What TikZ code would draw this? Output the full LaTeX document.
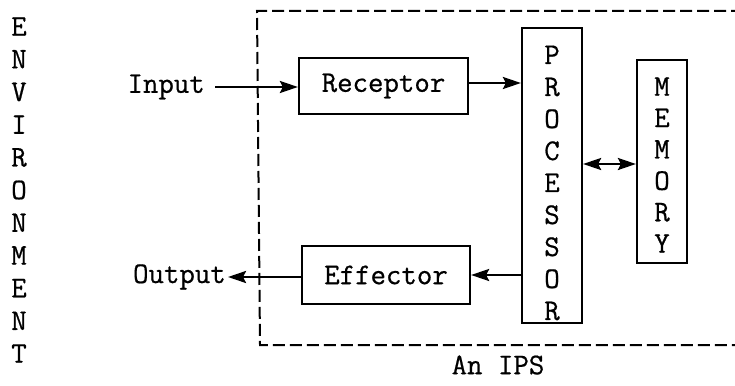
\documentclass[tikz,border=0pt]{standalone}
\usepackage{fontspec}
\setmonofont{Latin Modern Mono}[FakeBold=0.6]
\usetikzlibrary{arrows.meta}
\tikzset{
  txt/.style={font=\ttfamily\fontsize{30}{32}\selectfont, inner sep=0pt},
  boxnode/.style={draw, line width=2.2pt, inner sep=0pt},
  tipshape/.style={},
  flow/.style={line width=2.6pt, -{Stealth[length=18pt,width=12pt,inset=3pt]}},
  bothflow/.style={line width=2.6pt, {Stealth[length=18pt,width=12pt,inset=3pt]}-{Stealth[length=18pt,width=12pt,inset=3pt]}},
  ipsline/.style={line width=2pt, dash pattern=on 12pt off 5pt},
}
\begin{document}
\begin{tikzpicture}[x=1pt,y=-1pt]
\useasboundingbox (0,0) rectangle (735,385);
% environment column
\node[txt, align=center, font=\ttfamily\fontsize{30}{32.7}\selectfont] (env) at (19,190) {E\\N\\V\\I\\R\\O\\N\\M\\E\\N\\T};
% IPS dashed box (right side cut off)
\begin{scope}
\clip (0,0) rectangle (735,385);
\draw[ipsline] (760,11) -- (257,11) -- (260,345) -- (760,345);
\end{scope}
\node[txt] (ips) at (498,365) {An IPS};
% boxes
\node[boxnode, minimum width=169pt, minimum height=56pt] (rec) at (383.5,86) {};
\node[txt] (rect) at (383.5,86) {Receptor};
\node[boxnode, minimum width=168pt, minimum height=58pt] (eff) at (386,275) {};
\node[txt] (efft) at (386,275) {Effector};
\node[boxnode, minimum width=60pt, minimum height=295pt] (proc) at (552,175.5) {};
\node[txt, align=center] (proct) at (552,183) {P\\R\\O\\C\\E\\S\\S\\O\\R};
\node[boxnode, minimum width=50pt, minimum height=203pt] (mem) at (662,161.5) {};
\node[txt, align=center, font=\ttfamily\fontsize{30}{31.4}\selectfont] (memt) at (662,165) {M\\E\\M\\O\\R\\Y};
% labels
\node[txt, anchor=east] (in) at (205,87) {Input};
\node[txt, anchor=east] (out) at (226,277) {Output};
\coordinate (inend) at (215,87);
\coordinate (outend) at (228,277);
% connectors
\draw[flow] (inend) -- (rec.west |- inend);
\draw[flow] (rec.east |- 0,83) -- (proc.west |- 0,83);
\draw[flow] (proc.west |- 0,275) -- (eff.east |- 0,275);
\draw[flow] (eff.west |- 0,277) -- (outend);
\draw[bothflow] (proc.east |- 0,164) -- (mem.west |- 0,164);
\end{tikzpicture}
\end{document}
